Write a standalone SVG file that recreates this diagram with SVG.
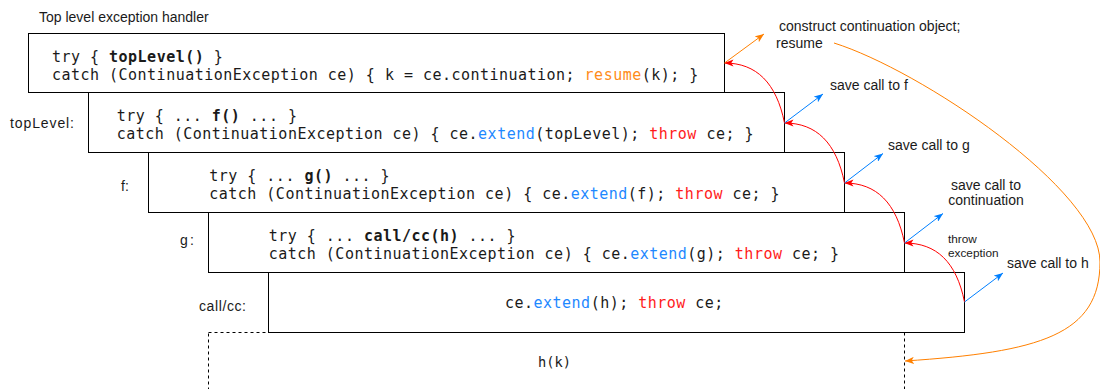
<svg xmlns="http://www.w3.org/2000/svg" width="1100" height="389" viewBox="0 0 1100 389">
<style>
.box{fill:#fff;stroke:#000;stroke-width:1}
.dash{fill:#fff;stroke:#000;stroke-width:1;stroke-dasharray:3 3}
.code{font-family:"DejaVu Sans Mono",monospace;font-size:15px;letter-spacing:0.48px;fill:#1a1a1a}
.b{font-weight:bold}
.ext{fill:#1e88ff}
.thr{fill:#ff1a1a}
.res{fill:#ff8c1a}
.lbl{font-family:"Liberation Sans",Arial,sans-serif;font-size:14px;fill:#1a1a1a}
.sm{font-family:"Liberation Sans",Arial,sans-serif;font-size:11.8px;fill:#1a1a1a}
.red{fill:none;stroke:#ff0000;stroke-width:1;marker-end:url(#ar)}
.blue{fill:none;stroke:#007fff;stroke-width:1;marker-end:url(#ab)}
.orange{fill:none;stroke:#ff8000;stroke-width:1;marker-end:url(#ao)}
</style>
<defs>
<marker id="ar" viewBox="0 0 10 8" refX="10" refY="4" markerWidth="9" markerHeight="7.2" markerUnits="userSpaceOnUse" orient="auto"><path d="M0,0 L10,4 L0,8 L2.5,4 Z" fill="#ff0000"/></marker>
<marker id="ab" viewBox="0 0 10 8" refX="10" refY="4" markerWidth="9" markerHeight="7.2" markerUnits="userSpaceOnUse" orient="auto"><path d="M0,0 L10,4 L0,8 L2.5,4 Z" fill="#007fff"/></marker>
<marker id="ao" viewBox="0 0 10 8" refX="10" refY="4" markerWidth="9" markerHeight="7.2" markerUnits="userSpaceOnUse" orient="auto"><path d="M0,0 L10,4 L0,8 L2.5,4 Z" fill="#ff8000"/></marker>
</defs>
<rect width="1100" height="389" fill="#fff"/>

<text class="lbl" x="39" y="21.5">Top level exception handler</text>

<g id="hk">
<rect class="dash" x="208.5" y="332.5" width="696" height="80"/>
<text class="code" x="538" y="367" style="font-size:13.7px;letter-spacing:0">h(k)</text>
</g>

<g id="toplevel-handler">
<rect class="box" x="28.5" y="33.5" width="696" height="59"/>
<text class="code" x="52" y="61.5" xml:space="preserve">try { <tspan class="b">topLevel()</tspan> }</text>
<text class="code" x="52" y="79.8" xml:space="preserve">catch (ContinuationException ce) { k = ce.continuation; <tspan class="res">resume</tspan>(k); }</text>
</g>

<g id="toplevel">
<rect class="box" x="88.5" y="92.5" width="696" height="60"/>
<text class="lbl" x="10" y="128" textLength="64" lengthAdjust="spacing">topLevel:</text>
<text class="code" x="116.7" y="120.8" xml:space="preserve">try { ... <tspan class="b">f()</tspan> ... }</text>
<text class="code" x="116.7" y="139.1" xml:space="preserve">catch (ContinuationException ce) { ce.<tspan class="ext">extend</tspan>(topLevel); <tspan class="thr">throw</tspan> ce; }</text>
</g>

<g id="f">
<rect class="box" x="148.5" y="152.5" width="696" height="60"/>
<text class="lbl" x="121" y="191">f:</text>
<text class="code" x="209.3" y="180.8" xml:space="preserve">try { ... <tspan class="b">g()</tspan> ... }</text>
<text class="code" x="209.3" y="199.1" xml:space="preserve">catch (ContinuationException ce) { ce.<tspan class="ext">extend</tspan>(f); <tspan class="thr">throw</tspan> ce; }</text>
</g>

<g id="g">
<rect class="box" x="208.5" y="212.5" width="696" height="60"/>
<text class="lbl" x="180" y="244.5" textLength="14" lengthAdjust="spacing">g:</text>
<text class="code" x="268.8" y="240.5" xml:space="preserve">try { ... <tspan class="b">call/cc(h)</tspan> ... }</text>
<text class="code" x="268.8" y="258.8" xml:space="preserve">catch (ContinuationException ce) { ce.<tspan class="ext">extend</tspan>(g); <tspan class="thr">throw</tspan> ce; }</text>
</g>

<g id="callcc">
<rect class="box" x="268.5" y="272.5" width="696" height="60"/>
<text class="lbl" x="199" y="311" textLength="47" lengthAdjust="spacing">call/cc:</text>
<text class="code" x="505" y="307.5" xml:space="preserve">ce.<tspan class="ext">extend</tspan>(h); <tspan class="thr">throw</tspan> ce;</text>
</g>

<g id="connectors">
<path class="red" d="M964.5,302 C956.5,262 936.5,243 904.5,243"/>
<path class="red" d="M904.5,243 C896.5,203 876.5,183 844.5,183"/>
<path class="red" d="M844.5,183 C836.5,143 816.5,123 784.5,123"/>
<path class="red" d="M784.5,123 C776.5,83 756.5,63 724.5,63"/>
<path class="orange" d="M724.5,63 L764,34"/>
<path class="blue" d="M784.5,123 L823,94"/>
<path class="blue" d="M844.5,183 L883,153.5"/>
<path class="blue" d="M904.5,243 L943,213.5"/>
<path class="blue" d="M964.5,302 L1003,273"/>
<path class="orange" d="M834,43 C920,70 1100,190 1100,262 C1100,335 1040,352 905,361"/>
</g>

<g id="labels">
<text class="lbl" x="779" y="30.5">construct continuation object;</text>
<text class="lbl" x="776" y="48">resume</text>
<text class="lbl" x="830" y="90">save call to f</text>
<text class="lbl" x="888" y="150">save call to g</text>
<text class="lbl" x="986" y="190" text-anchor="middle">save call to</text>
<text class="lbl" x="986" y="205" text-anchor="middle">continuation</text>
<text class="sm" x="948" y="242.5">throw</text>
<text class="sm" x="948" y="256.5">exception</text>
<text class="lbl" x="1007" y="268">save call to h</text>
</g>
</svg>
